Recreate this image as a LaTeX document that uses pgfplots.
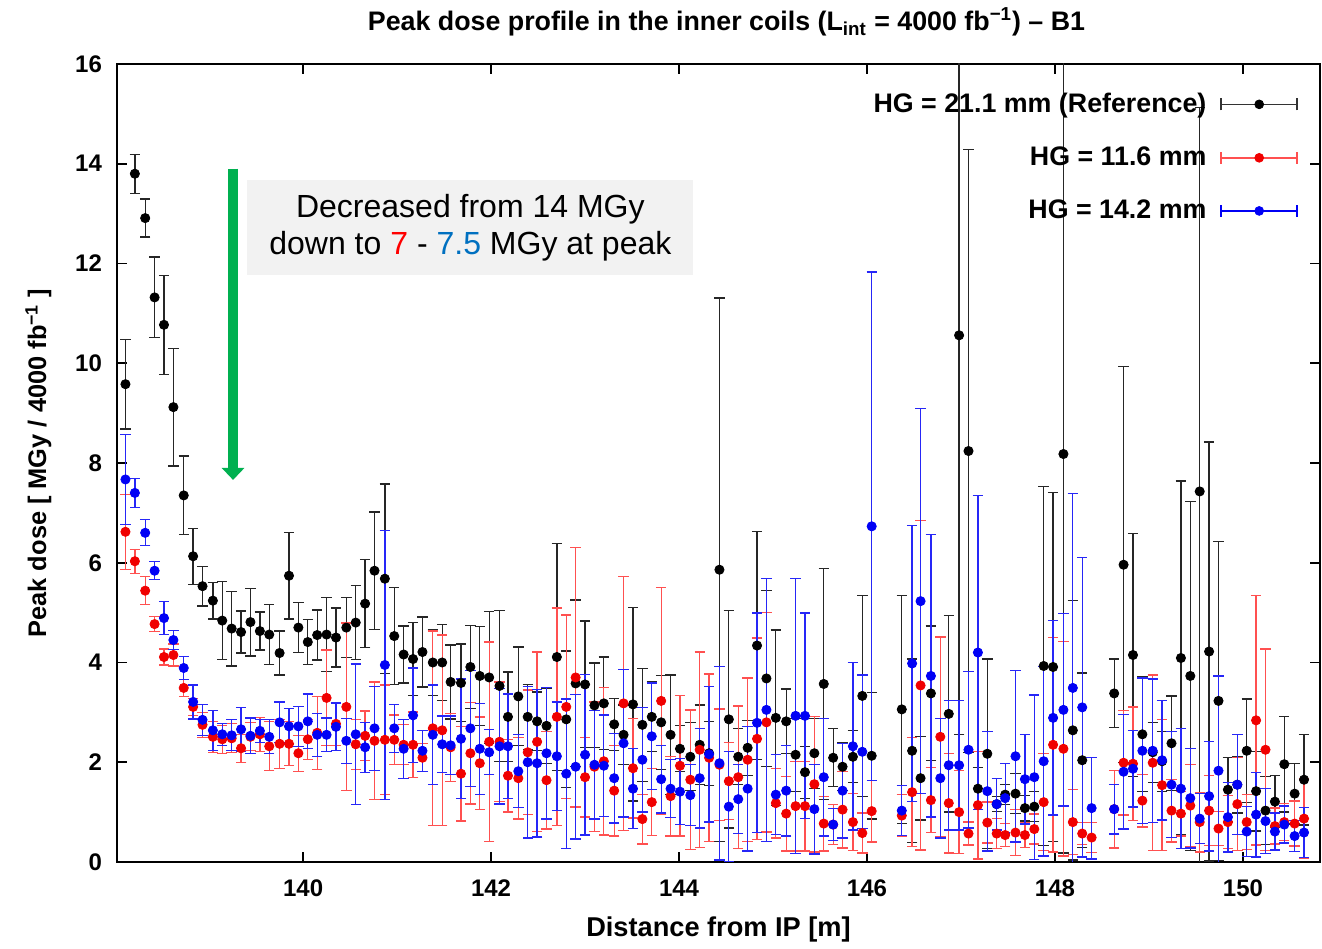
\documentclass[border=0pt]{standalone}
\usepackage{fontspec}
\setmainfont{Liberation Sans}
\usepackage{pgfplots}
\usepackage{pgfplotstable}
\pgfplotsset{compat=1.18}
\usetikzlibrary{arrows.meta}

\definecolor{gpred}{RGB}{240,0,0}
\definecolor{ltred}{RGB}{255,80,80}
\definecolor{gpblue}{RGB}{0,0,245}
\definecolor{txtblue}{RGB}{0,112,192}
\definecolor{arrgreen}{RGB}{0,176,80}
\definecolor{boxgray}{RGB}{242,242,242}

% HG = 21.1 mm (reference)
\pgfplotstableread{
x y e
138.11 9.58 0.90
138.21 13.80 0.39
138.32 12.91 0.38
138.42 11.32 0.81
138.52 10.77 0.99
138.62 9.12 1.18
138.73 7.35 0.79
138.83 6.13 0.56
138.93 5.53 0.40
139.04 5.24 0.37
139.14 4.84 0.78
139.24 4.68 0.75
139.34 4.61 0.42
139.44 4.81 0.68
139.54 4.63 0.38
139.64 4.56 0.60
139.75 4.19 0.44
139.85 5.74 0.87
139.95 4.70 0.50
140.05 4.41 0.45
140.15 4.55 0.50
140.25 4.56 0.74
140.35 4.50 0.59
140.46 4.70 0.60
140.56 4.80 0.74
140.66 5.18 0.88
140.76 5.84 1.18
140.87 5.68 1.90
140.97 4.53 0.97
141.07 4.16 0.57
141.17 4.07 0.73
141.27 4.21 0.70
141.38 4.00 0.66
141.48 4.00 0.76
141.57 3.61 0.74
141.68 3.59 0.78
141.78 3.91 0.83
141.88 3.73 0.99
141.98 3.70 1.32
142.09 3.53 1.51
142.18 2.91 0.90
142.29 3.32 0.99
142.39 2.91 0.65
142.49 2.82 0.59
142.59 2.73 0.75
142.70 4.11 2.27
142.80 2.86 1.37
142.90 3.58 1.67
143.00 3.56 1.27
143.10 3.14 0.85
143.20 3.18 0.93
143.31 2.76 0.52
143.41 2.55 0.60
143.51 3.16 1.94
143.61 2.75 1.13
143.71 2.91 0.70
143.81 2.80 0.94
143.91 2.55 1.20
144.01 2.27 0.46
144.12 2.11 0.68
144.22 2.35 0.80
144.32 2.18 0.64
144.43 5.86 5.45
144.53 2.86 2.18
144.63 2.11 0.56
144.73 2.29 0.55
144.83 4.34 2.29
144.93 3.68 1.76
145.03 2.89 1.76
145.14 2.82 0.65
145.24 2.15 0.73
145.34 1.80 0.52
145.44 2.18 0.70
145.54 3.57 2.32
145.64 2.09 0.58
145.74 1.91 0.48
145.85 2.11 0.52
145.95 3.33 2.02
146.05 2.13 1.27
146.37 3.06 2.29
146.48 2.23 1.84
146.57 1.68 0.84
146.68 3.38 1.35
146.87 2.97 1.97
146.98 10.56 8.00
147.08 8.24 6.05
147.18 1.47 0.42
147.28 2.17 1.90
147.38 1.16 0.15
147.47 1.35 0.20
147.58 1.37 0.40
147.68 1.08 0.26
147.78 1.11 0.30
147.88 3.93 3.60
147.98 3.91 3.50
148.09 8.18 8.00
148.19 2.64 2.60
148.29 2.04 1.75
148.63 3.38 0.69
148.73 5.96 3.97
148.83 4.15 2.43
148.93 2.56 1.15
149.04 2.20 0.60
149.14 2.02 0.60
149.24 2.38 0.95
149.34 4.09 3.55
149.44 3.73 3.50
149.54 7.43 7.70
149.64 4.22 4.20
149.74 3.23 3.20
149.84 1.45 0.65
149.94 1.55 0.57
150.04 2.23 1.04
150.14 1.42 0.80
150.24 1.03 0.68
150.34 1.21 0.52
150.44 1.96 0.96
150.55 1.37 0.61
150.65 1.65 0.91
}\refdata

% HG = 11.6 mm
\pgfplotstableread{
x y e
138.11 6.62 0.75
138.21 6.03 0.24
138.32 5.44 0.28
138.42 4.77 0.15
138.52 4.11 0.16
138.62 4.15 0.22
138.73 3.49 0.17
138.83 3.11 0.17
138.93 2.75 0.25
139.04 2.51 0.31
139.14 2.46 0.28
139.24 2.48 0.29
139.34 2.28 0.28
139.44 2.51 0.28
139.54 2.56 0.34
139.64 2.32 0.49
139.75 2.37 0.49
139.85 2.37 0.44
139.95 2.18 0.36
140.05 2.46 0.40
140.15 2.59 0.73
140.25 3.29 0.96
140.35 2.77 0.43
140.46 3.11 1.68
140.56 2.36 0.50
140.66 2.53 0.50
140.76 2.43 1.18
140.87 2.45 1.10
140.97 2.45 0.50
141.07 2.35 0.40
141.17 2.35 0.66
141.27 2.09 0.28
141.38 2.68 1.95
141.48 2.64 1.91
141.57 2.30 0.68
141.68 1.77 0.95
141.78 2.18 1.02
141.88 1.98 0.93
141.98 2.41 2.00
142.09 2.41 1.20
142.18 1.73 0.73
142.29 1.68 0.82
142.39 2.20 1.25
142.49 2.41 1.80
142.59 1.64 0.98
142.70 2.91 2.18
142.80 3.11 1.84
142.90 3.70 2.60
143.00 1.70 0.80
143.10 1.91 1.30
143.20 2.02 1.48
143.31 1.43 0.91
143.41 3.18 2.55
143.51 1.88 1.00
143.61 0.86 0.50
143.71 1.20 0.67
143.81 3.23 2.27
143.91 1.32 0.80
144.01 1.93 1.41
144.12 1.65 1.40
144.22 2.25 1.96
144.32 2.09 1.68
144.43 1.95 1.12
144.53 1.62 0.77
144.63 1.70 1.43
144.73 2.05 1.64
144.83 2.47 2.02
144.93 2.80 2.20
145.03 1.18 0.70
145.14 0.97 0.75
145.24 1.12 0.90
145.34 1.12 0.90
145.44 1.56 1.36
145.54 0.77 0.55
145.64 0.75 0.40
145.74 1.05 0.77
145.85 0.80 0.57
145.95 0.58 0.40
146.05 1.02 0.62
146.37 0.93 0.42
146.48 1.40 1.09
146.57 3.54 3.30
146.68 1.24 0.65
146.78 2.51 2.00
146.87 1.18 1.00
146.98 1.00 0.83
147.08 0.57 0.23
147.18 1.14 1.08
147.28 0.79 0.41
147.38 0.57 0.30
147.47 0.54 0.23
147.58 0.59 0.46
147.68 0.54 0.25
147.78 0.66 0.30
147.88 1.20 0.97
147.98 2.35 2.15
148.09 2.27 2.15
148.19 0.80 0.65
148.29 0.57 0.22
148.39 0.49 0.30
148.63 1.06 0.78
148.73 1.99 1.05
148.83 1.97 1.14
148.93 1.23 0.53
149.04 1.99 1.76
149.14 1.54 1.31
149.24 1.03 0.63
149.34 0.97 0.45
149.44 1.13 0.82
149.54 0.80 0.60
149.64 1.03 0.70
149.74 0.67 0.34
149.84 0.80 0.53
149.94 1.16 0.93
150.04 0.80 0.55
150.14 2.84 2.50
150.24 2.25 2.02
150.34 0.72 0.36
150.44 0.80 0.37
150.55 0.77 0.45
150.65 0.87 0.80
}\hgsmall

% HG = 14.2 mm
\pgfplotstableread{
x y e
138.11 7.67 0.90
138.21 7.40 0.29
138.32 6.60 0.26
138.42 5.84 0.18
138.52 4.89 0.33
138.62 4.45 0.19
138.73 3.89 0.23
138.83 3.21 0.34
138.93 2.85 0.31
139.04 2.64 0.40
139.14 2.56 0.22
139.24 2.54 0.31
139.34 2.66 0.44
139.44 2.53 0.36
139.54 2.63 0.23
139.64 2.51 0.34
139.75 2.80 0.41
139.85 2.72 0.36
139.95 2.72 0.40
140.05 2.82 0.55
140.15 2.55 0.43
140.25 2.55 0.34
140.35 2.71 0.48
140.46 2.43 0.45
140.56 2.56 1.41
140.66 2.30 0.50
140.76 2.68 0.84
140.87 3.95 2.70
140.97 2.68 0.48
141.07 2.27 0.59
141.17 2.94 0.95
141.27 2.23 0.41
141.38 2.55 1.00
141.48 2.36 0.57
141.57 2.34 0.59
141.68 2.47 1.20
141.78 2.68 1.16
141.88 2.27 0.91
141.98 2.20 0.45
142.09 2.32 1.16
142.18 2.32 1.05
142.29 1.82 0.73
142.39 2.00 1.52
142.49 1.98 1.48
142.59 2.18 1.32
142.70 2.12 1.09
142.80 1.77 1.50
142.90 1.91 1.45
143.00 2.15 1.61
143.10 1.95 1.09
143.20 1.93 1.02
143.31 1.68 0.90
143.41 2.38 1.48
143.51 1.47 0.80
143.61 2.05 1.05
143.71 2.52 1.07
143.81 1.66 0.68
143.91 1.47 0.58
144.01 1.41 0.66
144.12 1.34 0.61
144.22 1.68 1.00
144.32 2.16 1.36
144.43 1.98 1.94
144.53 1.11 1.10
144.63 1.26 0.69
144.73 1.47 1.25
144.83 2.79 2.20
144.93 3.05 2.64
145.03 1.35 0.80
145.14 1.43 0.91
145.24 2.93 2.76
145.34 2.93 2.06
145.44 1.06 0.90
145.54 1.70 1.18
145.64 0.75 0.32
145.74 1.43 0.95
145.85 2.32 1.68
145.95 2.21 1.54
146.05 6.73 5.10
146.37 1.03 0.50
146.48 3.98 2.77
146.57 5.23 3.86
146.68 3.73 2.83
146.78 1.68 1.20
146.87 1.94 1.30
146.98 1.94 1.30
147.08 2.25 1.57
147.18 4.20 3.15
147.28 1.42 1.20
147.38 1.16 0.52
147.47 1.28 0.70
147.58 2.12 1.72
147.68 1.66 0.90
147.78 1.70 1.65
147.88 2.02 1.90
147.98 2.89 1.95
148.09 3.05 1.93
148.19 3.49 3.90
148.29 3.10 3.00
148.39 1.08 1.02
148.63 1.06 0.50
148.73 1.81 1.15
148.83 1.87 0.77
148.93 2.23 1.46
149.04 2.23 1.44
149.14 2.04 1.20
149.24 1.55 1.06
149.34 1.47 1.20
149.44 1.28 1.00
149.54 0.87 0.50
149.64 1.32 1.10
149.74 1.83 1.90
149.84 0.90 0.70
149.94 1.55 1.00
150.04 0.61 0.50
150.14 0.95 0.85
150.24 0.82 0.65
150.34 0.61 0.37
150.44 0.75 0.37
150.55 0.52 0.31
150.65 0.59 0.50
}\hgmid

% #1 = bar colour, #2 = dot colour
\pgfplotsset{
  gperr/.style 2 args={only marks, mark=*, mark size=2.3pt,
    legend image code/.code={%
      \draw[draw=#1, line width=0.75pt] (0pt,0pt) -- (38pt,0pt);
      \draw[draw=#1, line width=0.75pt] (0pt,-3pt) -- (0pt,3pt);
      \draw[draw=#1, line width=0.75pt] (38pt,-3pt) -- (38pt,3pt);
      \fill[fill=#2] (19pt,0pt) circle (2.2pt);}},
  every axis title/.style={at={(0.5,1)}, anchor=center, yshift=21pt, xshift=4pt,
    font=\fontsize{13.4}{15}\selectfont\bfseries},
}

\begin{document}
\begin{tikzpicture}
\begin{axis}[
  name=ax, scale only axis,
  width=601.5pt, height=399pt,
  xmin=138.02, xmax=150.82, ymin=0, ymax=16,
  xtick={140,142,...,150}, ytick={0,2,...,16},
  tick align=inside, major tick length=5pt,
  every tick/.style={black, line width=0.8pt},
  axis line style={line width=1.2pt},
  ticklabel style={font=\fontsize{12}{14}\selectfont\bfseries},
  xticklabel shift=5.5pt, yticklabel shift=4pt,
  /pgf/number format/assume math mode=true,
  xlabel={Distance from IP [m]},
  ylabel={Peak dose [ MGy / 4000 fb\textsuperscript{−1} ]},
  xlabel style={font=\fontsize{13.6}{15}\selectfont\bfseries, yshift=-3pt},
  ylabel style={font=\fontsize{12.7}{15}\selectfont\bfseries, yshift=5pt},
  title={Peak dose profile in the inner coils (L\textsubscript{int} = 4000 fb\textsuperscript{−1}) – B1},
  legend style={draw=none, fill=none, at={(rel axis cs:0.987,0.974)}, anchor=north east,
    font=\fontsize{13.4}{15}\selectfont\bfseries, row sep=11.7pt, column sep=5pt},
  legend cell align=right, legend plot pos=right,
]
\fill[boxgray] (axis cs:139.40,11.76) rectangle (axis cs:144.15,13.67);
\node[align=center, font=\fontsize{16}{18.5}\selectfont] at (axis cs:141.78,12.72)
  {Decreased from 14 MGy\\down to \textcolor{red}{7} - \textcolor{txtblue}{7.5} MGy at peak};
\draw[arrgreen, line width=5.3pt, -{Triangle[width=11pt,length=6pt]}]
  (axis cs:139.255,13.9) -- (axis cs:139.255,7.66);

\addplot[black, gperr={black!80}{black}, error bars/.cd, y dir=both, y explicit,
  error bar style={line width=0.65pt, black!85},
  error mark options={rotate=90, line width=0.65pt, mark size=2.6pt, black!85}]
  table[x=x, y=y, y error=e] {\refdata};
\addlegendentry{HG = 21.1 mm (Reference)}
\addplot[gpred, gperr={ltred}{gpred}, error bars/.cd, y dir=both, y explicit,
  error bar style={line width=0.65pt, ltred},
  error mark options={rotate=90, line width=0.65pt, mark size=2.6pt, ltred}]
  table[x=x, y=y, y error=e] {\hgsmall};
\addlegendentry{HG = 11.6 mm}
\addplot[gpblue, gperr={gpblue}{gpblue}, error bars/.cd, y dir=both, y explicit,
  error bar style={line width=0.65pt, gpblue!85},
  error mark options={rotate=90, line width=0.65pt, mark size=2.6pt, gpblue!85}]
  table[x=x, y=y, y error=e] {\hgmid};
\addlegendentry{HG = 14.2 mm}
\end{axis}
\path ([xshift=-58.5pt,yshift=-41pt]ax.south west) rectangle ([xshift=1pt,yshift=32pt]ax.north east);
\end{tikzpicture}
\end{document}
